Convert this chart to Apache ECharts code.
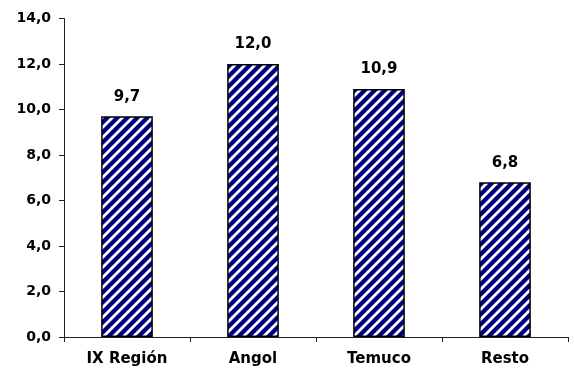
<!DOCTYPE html>
<html>
<head>
<meta charset="utf-8">
<script src="https://cdn.jsdelivr.net/npm/echarts@6/dist/echarts.min.js"></script>
<style>
html,body{margin:0;padding:0;background:#fff;}
#chart{width:574px;height:376px;}
</style>
</head>
<body>
<div id="chart"></div>
<script>
var categories = ["IX Región", "Angol", "Temuco", "Resto"];
var values = [9.7, 12.0, 10.9, 6.8];
var yTicks = [0, 2, 4, 6, 8, 10, 12, 14];

function makePattern() {
  var s = 10;
  var c = document.createElement('canvas');
  c.width = s; c.height = s;
  var ctx = c.getContext('2d');
  ctx.fillStyle = '#000080';
  ctx.fillRect(0, 0, s, s);
  ctx.strokeStyle = '#ffffff';
  ctx.lineWidth = 2.8;
  ctx.beginPath();
  ctx.moveTo(-1, s + 1); ctx.lineTo(s + 1, -1);
  ctx.moveTo(-1 - s, s + 1); ctx.lineTo(1, -1);
  ctx.moveTo(s - 1, s + 1); ctx.lineTo(2 * s + 1, -1);
  ctx.stroke();
  return c;
}

var chart = echarts.init(document.getElementById('chart'), null, {renderer: 'canvas'});
var fontFam = '"DejaVu Sans", Arial, sans-serif';
chart.setOption({
  animation: false,
  backgroundColor: '#ffffff',
  grid: {left: 64, right: 6, top: 18.5, bottom: 39, containLabel: false},
  xAxis: {
    type: 'category',
    data: categories,
    axisLine: {lineStyle: {color: '#222', width: 1}},
    axisTick: {show: true, length: 5, alignWithLabel: false, lineStyle: {color: '#222'}},
    axisLabel: {margin: 15, color: '#000', fontFamily: fontFam, fontWeight: 'bold', fontSize: 15}
  },
  yAxis: {
    type: 'value',
    min: yTicks[0],
    max: yTicks[yTicks.length - 1],
    interval: 2,
    splitLine: {show: false},
    axisLine: {show: true, lineStyle: {color: '#222', width: 1}},
    axisTick: {show: true, length: 5, lineStyle: {color: '#222'}},
    axisLabel: {
      margin: 13, color: '#000', fontFamily: fontFam, fontWeight: 'bold', fontSize: 14,
      formatter: function (v) { return v.toFixed(1).replace('.', ','); }
    }
  },
  series: [{
    type: 'bar',
    data: values,
    barWidth: '41%',
    itemStyle: {
      color: {image: makePattern(), repeat: 'repeat'},
      borderColor: '#000',
      borderWidth: 1.5
    },
    label: {
      show: true,
      position: 'top',
      distance: 12,
      color: '#000',
      fontFamily: fontFam,
      fontWeight: 'bold',
      fontSize: 15,
      formatter: function (p) { return p.value.toFixed(1).replace('.', ','); }
    }
  }]
});
</script>
</body>
</html>
